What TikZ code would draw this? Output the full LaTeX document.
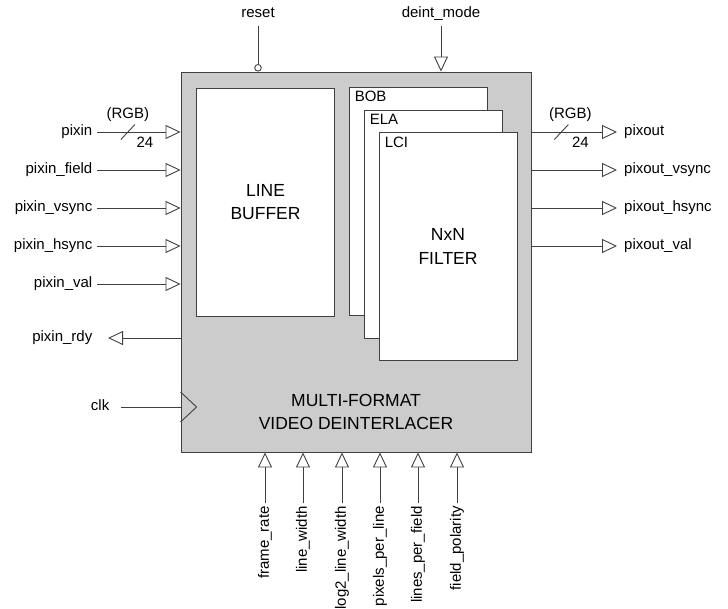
\documentclass[tikz,border=0pt]{standalone}
\usepackage{fontspec}
\setmainfont{Liberation Sans}
\usetikzlibrary{arrows.meta, positioning, calc}
\definecolor{wiregray}{RGB}{64,64,64}
\definecolor{coregray}{RGB}{204,204,204}
\tikzset{
  sig/.style={font=\fontsize{15}{17}\selectfont, inner xsep=4.5pt, inner ysep=2pt, text height=10.5pt, text depth=3pt},
  wire/.style={draw=wiregray, line width=0.9pt},
  portin/.style={wire, -{Triangle[open, length=15pt, width=14pt]}},
  portrst/.style={wire, -{Circle[open, length=7.5pt]}},
  corebox/.style={rectangle, draw=wiregray, fill=coregray, line width=0.9pt, minimum width=350pt, minimum height=380pt},
  blockbox/.style={rectangle, draw=wiregray, fill=white, line width=0.9pt, minimum width=138pt, minimum height=228pt, align=center, font=\fontsize{17.5}{23.3}\selectfont},
  titletext/.style={align=center, font=\fontsize{17.5}{23.3}\selectfont}
}

\begin{document}
\begin{tikzpicture}[x=1pt, y=-1pt]
  \useasboundingbox (0,0) rectangle (728,609);

  % deinterlacer core and inner blocks
  \node[corebox] (core) at (356,262) {};
  \node[blockbox] (linebuf) at (265.5,202) {LINE\\BUFFER};
  \node[blockbox] (bob) at (418,201) {};
  \node[blockbox] (ela) at (433,224) {};
  \node[blockbox] (lci) at (448,246.5) {NxN\\FILTER};
  \node[sig, anchor=west] (bobname) at ($(bob.north west)+(1.5,11)$) {BOB};
  \node[sig, anchor=west] (elaname) at ($(ela.north west)+(1.5,11)$) {ELA};
  \node[sig, anchor=west] (lciname) at ($(lci.north west)+(1.5,12)$) {LCI};
  \node[titletext] (title) at (356,412) {MULTI-FORMAT\\VIDEO DEINTERLACER};

  % top ports
  \node[sig, inner ysep=5pt] (reset) at (258,14) {reset};
  \node[sig, inner ysep=5pt] (deintmode) at (441,14) {deint\_mode};
  \draw[portrst] (reset.south) -- (reset.south |- core.north);
  \draw[portin] (deintmode.south) -- (deintmode.south |- core.north);

  % input side
  \foreach \name/\txt/\y in {pixin/pixin/132, pixinfield/pixin\_field/170,
      pixinvsync/pixin\_vsync/208, pixinhsync/pixin\_hsync/246, pixinval/pixin\_val/284}{
    \node[sig, anchor=east] (\name) at (97,\y) {\txt};
    \draw[portin] (\name.east) -- (core.west |- \name.east);
  }
  \node[sig, anchor=east] (pixinrdy) at (97,338) {pixin\_rdy};
  \draw[portin, shorten >=11pt] (core.west |- pixinrdy.east) -- (pixinrdy.east);

  \path (pixin.east) -- coordinate[pos=0.37] (pixinbus) (core.west |- pixin.east);
  \draw[wire] ($(pixinbus)+(-7,7.5)$) -- ($(pixinbus)+(7,-7.5)$);
  \node[sig] (pixinrgb) at ($(pixinbus)+(0,-17)$) {(RGB)};
  \node[sig] (pixinwidth) at ($(pixinbus)+(17,12)$) {24};

  % clock
  \node[sig, anchor=east] (clk) at (114,407) {clk};
  \draw[wire, shorten <=7pt] (clk.east) -- (core.west |- clk.east);
  \draw[wire] ($(core.west |- clk.east)+(0,-15)$) -- ($(core.west |- clk.east)+(16,0)$)
    -- ($(core.west |- clk.east)+(0,15)$);

  % output side
  \foreach \name/\txt/\y in {pixout/pixout/132, pixoutvsync/pixout\_vsync/170,
      pixouthsync/pixout\_hsync/208, pixoutval/pixout\_val/246}{
    \node[sig, anchor=west, inner xsep=7pt] (\name) at (617,\y) {\txt};
    \draw[portin] (core.east |- \name.west) -- (\name.west);
  }
  \path (core.east |- pixout.west) -- coordinate[pos=0.35] (pixoutbus) (pixout.west);
  \draw[wire] ($(pixoutbus)+(-7,7.5)$) -- ($(pixoutbus)+(7,-7.5)$);
  \node[sig] (pixoutrgb) at ($(pixoutbus)+(9,-17)$) {(RGB)};
  \node[sig] (pixoutwidth) at ($(pixoutbus)+(19,12)$) {24};

  % parameters
  \foreach \name/\txt/\x in {framerate/frame\_rate/265, linewidth/line\_width/303,
      loglinewidth/log2\_line\_width/342, pixperline/pixels\_per\_line/380,
      linesperfield/lines\_per\_field/418, fieldpol/field\_polarity/457}{
    \node[sig, rotate=90, anchor=east, inner xsep=3pt] (\name) at (\x,503) {\txt};
    \draw[portin] (\name.east) -- (\name.east |- core.south);
  }
\end{tikzpicture}
\end{document}
